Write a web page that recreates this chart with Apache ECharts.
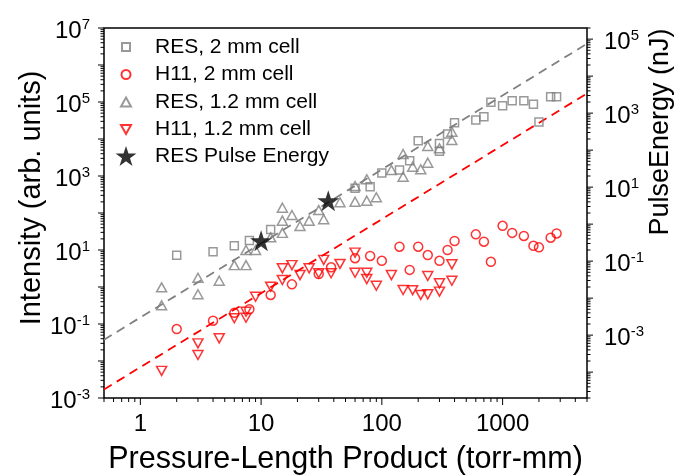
<!DOCTYPE html>
<html><head><meta charset="utf-8">
<script src="https://cdn.jsdelivr.net/npm/echarts@6/dist/echarts.min.js"></script>
<style>html,body{margin:0;padding:0;background:#fff}#c{width:686px;height:476px}</style>
</head><body><div id="c"></div>
<script>
// ---------- data ----------
const seriesNames = ['RES, 2 mm cell', 'H11, 2 mm cell', 'RES, 1.2 mm cell', 'H11, 1.2 mm cell', 'RES Pulse Energy'];

const res2X = [2, 4, 6, 8, 12, 60, 80, 100, 140, 170, 200, 300, 300, 350, 400, 600, 700, 800, 1000, 1200, 1500, 1800, 2000, 2500, 2800];
const res2Y = [7.2, 9, 13, 18, 36, 470, 510, 1200, 1450, 2600, 9000, 7600, 4700, 13600, 27600, 32600, 40000, 98000, 79000, 108000, 108000, 87000, 29000, 139000, 139000];

const h2X = [2, 4, 6, 8, 12, 18, 30, 38, 60, 80, 100, 140, 170, 200, 240, 300, 350, 400, 600, 700, 800, 1000, 1200, 1500, 1800, 2000, 2500, 2800];
const h2Y = [0.073, 0.123, 0.2, 0.25, 0.61, 1.18, 2.24, 3.4, 6.0, 6.9, 5.1, 12.3, 2.9, 12.3, 7.3, 5.1, 10, 17.5, 26.5, 16.8, 4.8, 45, 29, 24, 13, 11.8, 21.5, 28];

const res12X = [1.5, 1.5, 3, 3, 4.5, 6, 7.5, 7.5, 9, 12, 15, 15, 15, 18, 21, 25, 30, 33, 45, 60, 75, 90, 60, 75, 120, 150, 150, 180, 210, 240, 240, 300, 380, 380];
const res12Y = [0.98, 0.32, 1.78, 0.635, 1.48, 3.9, 3.9, 10, 10, 22, 139, 62, 29, 88, 44.5, 62, 120, 67.6, 195, 202, 215, 266, 537, 815, 1452, 3935, 957, 1783, 1517, 2287, 6470, 5610, 9400, 15700];

const h12X = [1.5, 3, 3, 4.5, 6, 7.5, 7.5, 9, 12, 15, 15, 18, 21, 25, 30, 33, 38, 45, 60, 60, 75, 75, 90, 120, 150, 180, 210, 240, 300, 300, 240, 380, 380];
const h12Y = [0.0054, 0.030, 0.0145, 0.041, 0.143, 0.215, 0.148, 0.547, 1.02, 3.2, 1.55, 3.9, 2.1, 3.2, 2.35, 5.4, 2.35, 4.2, 8.5, 2.43, 2.43, 1.64, 1.08, 2.1, 0.83, 0.82, 0.61, 0.635, 0.75, 1.26, 1.98, 4.1, 1.48];

const pulseX = [10, 36];
const pulseY = [0.356, 4.3];   // nJ, right axis

const fitResX = [0.5, 5000];
const fitResY = [0.0375, 3.75e6];
const fitH11X = [0.5, 5000];
const fitH11Y = [0.0017, 1.7e5];

const xRange = [0.5, 5000];
const yLeftRange = [1e-3, 1e7];
const yRightRange = [2e-5, 2e5];

const xLabelValues = [1, 10, 100, 1000];
const yLeftLabelValues = [1e-3, 1e-1, 1e1, 1e3, 1e5, 1e7];
const yRightLabelValues = [1e-3, 1e-1, 1e1, 1e3, 1e5];

const xTitle = 'Pressure-Length Product (torr-mm)';
const yLeftTitle = 'Intensity (arb. units)';
const yRightTitle = 'PulseEnergy (nJ)';

// ---------- helpers ----------
const FONT = "'Liberation Sans', Arial, Helvetica, sans-serif";
const GRAY = '#808080', RED = '#ff0000';
const zip = (xs, ys) => xs.map((x, i) => [x, ys[i]]);

function logTicks(lo, hi) {
  const out = [];
  for (let k = Math.floor(Math.log10(lo)) - 1; k <= Math.ceil(Math.log10(hi)); k++) {
    for (let m = 1; m <= 9; m++) {
      const v = parseFloat((m * Math.pow(10, k)).toPrecision(6));
      if (v >= lo * 0.9999 && v <= hi * 1.0001) out.push([v, m === 1 ? 1 : 0]);
    }
  }
  return out;
}
const tickDataLeft = [];
logTicks(xRange[0], xRange[1]).forEach(([v, mj]) => tickDataLeft.push([v, yLeftRange[0], 0, mj]));
logTicks(yLeftRange[0], yLeftRange[1]).forEach(([v, mj]) => tickDataLeft.push([xRange[0], v, 1, mj]));
const tickDataRight = logTicks(yRightRange[0], yRightRange[1]).map(([v, mj]) => [xRange[1], v, 2, mj]);

function renderTick(params, api) {
  const p = api.coord([api.value(0), api.value(1)]);
  const kind = api.value(2), major = api.value(3) === 1;
  let x2 = p[0], y2 = p[1];
  if (kind === 0) y2 = p[1] + (major ? 7 : 4);
  else if (kind === 1) x2 = p[0] - (major ? 6 : 3.5);
  else x2 = p[0] + (major ? 6 : 3.5);
  return { type: 'line', shape: { x1: p[0], y1: p[1], x2: x2, y2: y2 }, style: { stroke: '#000', lineWidth: 1 } };
}

function expLabel(v) {
  const r = Math.round(Math.log10(v));
  return '{b|10}{s|' + r + '}';
}
const richExp = {
  b: { fontSize: 24, fontFamily: FONT, color: '#000', lineHeight: 28 },
  s: { fontSize: 15, fontFamily: FONT, color: '#000', lineHeight: 15, verticalAlign: 'top' }
};

const BOX = 'M0 0M36 24';
const STAR = 'M12 2L14.47 9.6L22.46 9.6L15.99 14.3L18.47 21.9L12 17.2L5.53 21.9L8.01 14.3L1.54 9.6L9.53 9.6Z';
const legendIcons = [
  'path://' + BOX + 'M8 8L16 8L16 16L8 16Z',
  'path://' + BOX + 'M7.5 12A4.5 4.5 0 1 1 16.5 12A4.5 4.5 0 1 1 7.5 12Z',
  'path://' + BOX + 'M12 7.5L17 16.5L7 16.5Z',
  'path://' + BOX + 'M7 7.5L17 7.5L12 16.5Z',
  'path://' + BOX + STAR
];

const openStyle = (c) => ({ color: 'rgba(255,255,255,0)', borderColor: c, borderWidth: 1.5 });

const chart = echarts.init(document.getElementById('c'), null, { renderer: 'canvas' });
chart.setOption({
  animation: false,
  backgroundColor: '#fff',
  grid: { left: 104, right: 99, top: 28, bottom: 78, show: true, borderColor: '#000', borderWidth: 1.5, backgroundColor: 'transparent', containLabel: false, outerBoundsMode: 'none' },
  legend: {
    orient: 'vertical', left: 113, top: 34, padding: 0, itemGap: 1.5, itemWidth: 36, itemHeight: 24,
    selectedMode: false,
    textStyle: { fontSize: 21, fontFamily: FONT, color: '#000' },
    data: seriesNames.map((n, i) => ({ name: n, icon: legendIcons[i] }))
  },
  xAxis: {
    type: 'log', logBase: 10, min: xRange[0], max: xRange[1], splitNumber: 4,
    axisLine: { show: false }, axisTick: { show: false }, splitLine: { show: false }, minorTick: { show: false },
    axisLabel: {
      margin: 14, fontSize: 24, fontFamily: FONT, color: '#000', customValues: xLabelValues,
      formatter: (v) => String(Math.round(v))
    },
    name: xTitle, nameLocation: 'middle', nameGap: 46, nameMoveOverlap: false,
    nameTextStyle: { fontSize: 30.5, fontFamily: FONT, color: '#000' }
  },
  yAxis: [{
    type: 'log', logBase: 10, min: yLeftRange[0], max: yLeftRange[1], splitNumber: 10, position: 'left',
    axisLine: { show: false }, axisTick: { show: false }, splitLine: { show: false }, minorTick: { show: false },
    axisLabel: { margin: 14, formatter: expLabel, rich: richExp, padding: [6, 0, 0, 0], customValues: yLeftLabelValues },
    name: yLeftTitle, nameLocation: 'middle', nameGap: 58, nameRotate: 90, nameMoveOverlap: false,
    nameTextStyle: { fontSize: 29, fontFamily: FONT, color: '#000', padding: [0, 0, 0, 30] }
  }, {
    type: 'log', logBase: 10, min: yRightRange[0], max: yRightRange[1], splitNumber: 10, position: 'right',
    axisLine: { show: false }, axisTick: { show: false }, splitLine: { show: false }, minorTick: { show: false },
    axisLabel: { margin: 17, formatter: expLabel, rich: richExp, padding: [6, 0, 0, 0], customValues: yRightLabelValues },
    name: yRightTitle, nameLocation: 'middle', nameGap: 60, nameRotate: 90, nameMoveOverlap: false,
    nameTextStyle: { fontSize: 27, fontFamily: FONT, color: '#000', padding: [0, 0, 0, 162] }
  }],
  series: [
    { type: 'line', data: zip(fitResX, fitResY), showSymbol: false, symbol: 'none', silent: true, z: 1,
      lineStyle: { color: GRAY, width: 1.8, type: [9, 6] } },
    { type: 'line', data: zip(fitH11X, fitH11Y), showSymbol: false, symbol: 'none', silent: true, z: 1,
      lineStyle: { color: RED, width: 1.8, type: [9, 6] } },
    { name: seriesNames[0], type: 'scatter', data: zip(res2X, res2Y), symbol: 'rect', symbolSize: 8, itemStyle: openStyle(GRAY), z: 3 },
    { name: seriesNames[1], type: 'scatter', data: zip(h2X, h2Y), symbol: 'circle', symbolSize: 9, itemStyle: openStyle(RED), z: 3 },
    { name: seriesNames[2], type: 'scatter', data: zip(res12X, res12Y), symbol: 'triangle', symbolSize: [10, 9], itemStyle: openStyle(GRAY), z: 3 },
    { name: seriesNames[3], type: 'scatter', data: zip(h12X, h12Y), symbol: 'path://M0 0L10 0L5 9Z', symbolSize: [10, 9], itemStyle: openStyle(RED), z: 3 },
    { name: seriesNames[4], type: 'scatter', yAxisIndex: 1, data: zip(pulseX, pulseY), symbol: 'path://' + STAR, symbolSize: [22, 21],
      itemStyle: { color: '#000', borderWidth: 0 }, z: 4 },
    { type: 'custom', silent: true, clip: false, z: 5, data: tickDataLeft, renderItem: renderTick },
    { type: 'custom', silent: true, clip: false, z: 5, yAxisIndex: 1, data: tickDataRight, renderItem: renderTick }
  ]
});
</script>
</body></html>
